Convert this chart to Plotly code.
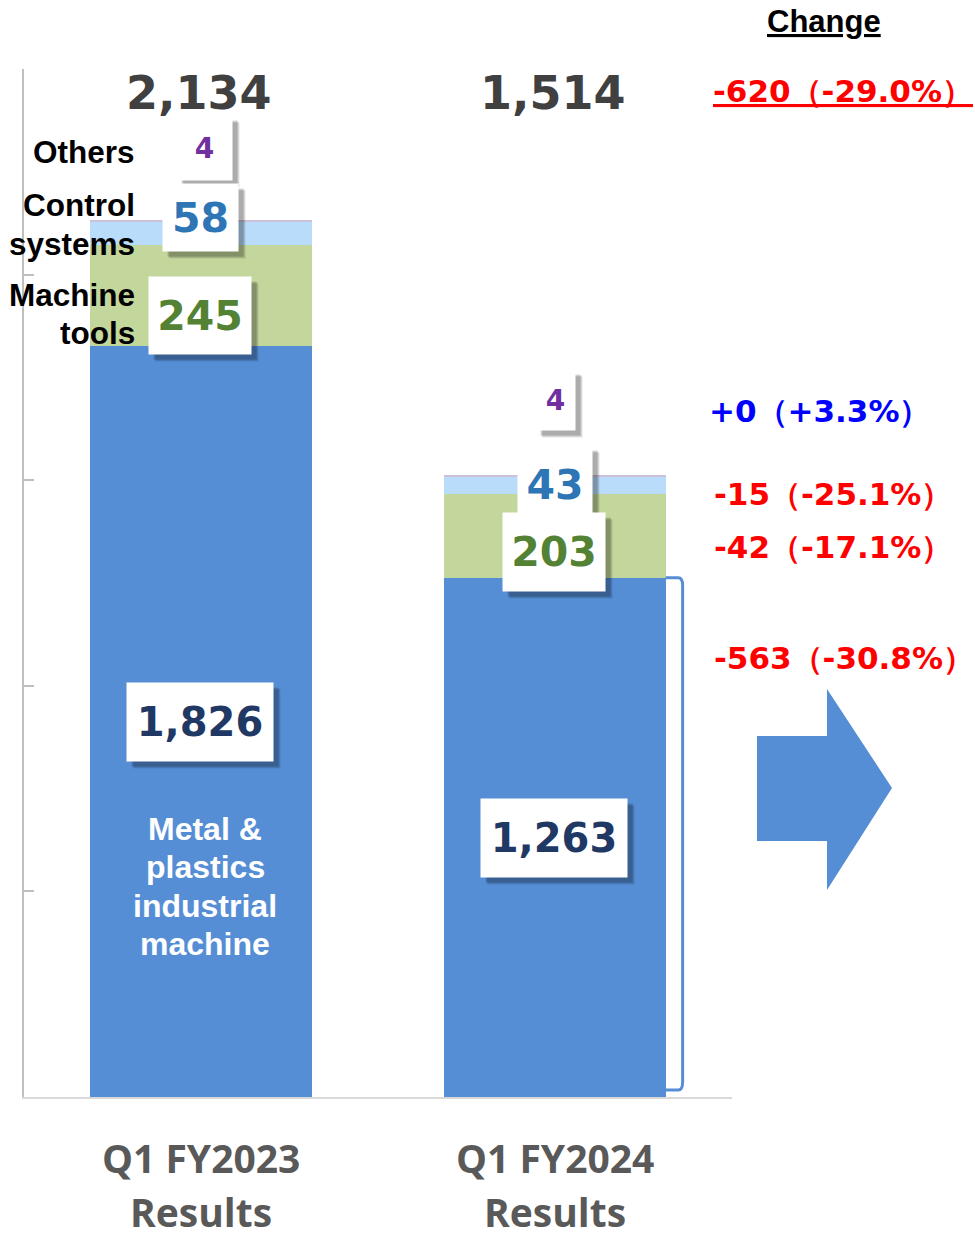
import plotly.graph_objects as go

# ---- data -------------------------------------------------------------
periods = ["Q1 FY2023", "Q1 FY2024"]
segments = ["Metal & plastics industrial machine", "Machine tools", "Control systems", "Others"]
metal = [1826, 1263]
machine_tools = [245, 203]
control_systems = [58, 43]
others = [4, 4]
totals = [2134, 1514]
changes = ["-620（-29.0%）", "+0（+3.3%）", "-15（-25.1%）", "-42（-17.1%）", "-563（-30.8%）"]

# ---- styling ------------------------------------------------------------
W, H = 975, 1237
ML, MR, MT, MB = 24, 243, 69, 140
PW, PH = W - ML - MR, H - MT - MB
YMAX = 2500
BAR_W = 0.625

C_METAL = "#558ED5"
C_TOOLS = "#C3D69B"
C_CTRL = "#B9DCFA"
C_OTH = "#CDC0DA"

NUM_FONT = "DejaVu Sans"
LBL_FONT = "Liberation Sans"
CAT_FONT = "Open Sans"


def py2y(py):
    """pixel row -> value on the y axis"""
    return (H - MB - py) / PH * YMAX


def px2p(px):
    return (px - ML) / PW


def py2p(py):
    return (H - MB - py) / PH


xs = list(range(len(periods)))

fig = go.Figure()
for vals, color, name in [
    (metal, C_METAL, segments[0]),
    (machine_tools, C_TOOLS, segments[1]),
    (control_systems, C_CTRL, segments[2]),
    (others, C_OTH, segments[3]),
]:
    fig.add_trace(go.Bar(x=xs, y=vals, name=name, width=BAR_W,
                         marker=dict(color=color, line=dict(width=0)),
                         hoverinfo="skip"))

ann = []

# totals above each bar
for i, t in enumerate(totals):
    ann.append(dict(x=i, xref="x", y=py2p(93), yref="paper", text=f"<b>{t:,}</b>",
                    showarrow=False, xanchor="center", yanchor="middle", xshift=-2,
                    font=dict(family=NUM_FONT, size=46, color="#404040")))


def boxed(i, val, py, w, h, color, size, dx=0):
    y = py2y(py)
    for off, op in [(7, 0.10), (6, 0.12), (5, 0.14)]:
        ann.append(dict(x=i, xref="x", y=y, yref="y", text=" ", showarrow=False,
                        width=w, height=h, bgcolor=f"rgba(0,0,0,{op})", borderpad=0,
                        xshift=dx + off, yshift=-off))
    ann.append(dict(x=i, xref="x", y=y, yref="y", text=f"<b>{val:,}</b>", showarrow=False,
                    width=w, height=h, bgcolor="white", borderpad=0, xshift=dx,
                    align="center", valign="middle",
                    font=dict(family=NUM_FONT, size=size, color=color)))


# first period
boxed(0, others[0], 148, 55, 64, "#7030A0", 28, dx=3.5)
boxed(0, control_systems[0], 217.5, 75, 67, "#2E75B6", 41, dx=-0.5)
boxed(0, machine_tools[0], 315.5, 102, 77, "#548235", 41, dx=-1)
boxed(0, metal[0], 722, 146, 78, "#1F3864", 40, dx=-1)
# second period
boxed(1, others[1], 400, 39, 60, "#7030A0", 28, dx=0.5)
boxed(1, control_systems[1], 484.5, 74, 77, "#2E75B6", 41)
boxed(1, machine_tools[1], 552, 102, 78, "#548235", 41, dx=-1)
boxed(1, metal[1], 838, 146, 78, "#1F3864", 40, dx=-1)


def line_label(txt, x, xref, py, anchor, size, color, family=LBL_FONT, xshift=0,
               yanchor="middle"):
    ann.append(dict(x=x, xref=xref, y=py2p(py), yref="paper", text=f"<b>{txt}</b>",
                    showarrow=False, xanchor=anchor, yanchor=yanchor, xshift=xshift,
                    font=dict(family=family, size=size, color=color)))


# segment names on the left
for txt, py in [("Others", 152), ("Control", 205), ("systems", 244),
                ("Machine", 295), ("tools", 333)]:
    line_label(txt, px2p(137), "paper", py, "right", 31.5, "black")

# segment name inside the metal bar
for txt, py in [("Metal &amp;", 829), ("plastics", 867), ("industrial", 906), ("machine", 944)]:
    line_label(txt, 0, "x", py, "center", 32, "white", xshift=4)

# period labels
for i, p in enumerate(periods):
    line_label(p, i, "x", 1157, "center", 39, "#595959", family=CAT_FONT)
    line_label("Results", i, "x", 1211, "center", 39, "#595959", family=CAT_FONT)

# change column
ann.append(dict(x=px2p(824), xref="paper", y=py2p(22), yref="paper", text="<b><u>Change</u></b>",
                showarrow=False, xanchor="center", yanchor="middle",
                font=dict(family=LBL_FONT, size=31, color="black")))
chg_pos = [(711, 91, "#FF0000", True), (707, 411, "#0000FF", False),
           (712, 494, "#FF0000", False), (712, 547, "#FF0000", False),
           (712, 658, "#FF0000", False)]
for txt, (px, py, col, ul) in zip(changes, chg_pos):
    t = f"<b>{txt}</b>"
    if ul:
        t = f"<u>{t}</u>"
    ann.append(dict(x=px2p(px), xref="paper", y=py2p(py), yref="paper", text=t,
                    showarrow=False, xanchor="left", yanchor="middle",
                    font=dict(family=NUM_FONT, size=31, color=col)))

shapes = []
# bracket beside the metal segment of the second bar
right = 1 + BAR_W / 2
bx = right + 17 / (PW / 2)
top = metal[1]
bot = py2y(1090)
r = py2y(1097 - 8) - py2y(1097)
shapes.append(dict(type="path", xref="x", yref="y",
                   path=(f"M {right},{top} L {bx - 0.012},{top} Q {bx},{top} {bx},{top - r} "
                         f"L {bx},{bot + r} Q {bx},{bot} {bx - 0.012},{bot} L {right},{bot}"),
                   line=dict(color=C_METAL, width=3)))

# block arrow
pts = [(757, 736), (827, 736), (827, 689), (892, 788), (827, 890), (827, 841), (757, 841)]
path = "M " + " L ".join(f"{px2p(a)},{py2p(b)}" for a, b in pts) + " Z"
shapes.append(dict(type="path", xref="paper", yref="paper", path=path,
                   fillcolor=C_METAL, line=dict(width=0)))

fig.update_layout(
    width=W, height=H, barmode="stack", showlegend=False,
    margin=dict(l=ML, r=MR, t=MT, b=MB),
    paper_bgcolor="white", plot_bgcolor="white",
    annotations=ann, shapes=shapes,
    xaxis=dict(range=[-0.5, 1.5], showgrid=False, zeroline=False, showticklabels=False,
               showline=True, linecolor="#D9D9D9", linewidth=2, ticks=""),
    yaxis=dict(range=[0, YMAX], dtick=500, showgrid=False, zeroline=False,
               showticklabels=False, showline=True, linecolor="#BFBFBF", linewidth=2,
               ticks="inside", ticklen=10, tickwidth=2, tickcolor="#BFBFBF"),
)

fig.write_html("out.html", config={"displayModeBar": False})
